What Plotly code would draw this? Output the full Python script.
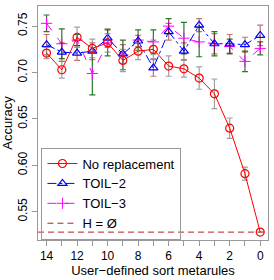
import plotly.graph_objects as go

metarules = [14, 13, 12, 11, 10, 9, 8, 7, 6, 5, 4, 3, 2, 1, 0]

no_rep = [0.721, 0.703, 0.738, 0.726, 0.732, 0.713, 0.723, 0.725, 0.707, 0.704, 0.694, 0.677, 0.640, 0.591, 0.528]
no_rep_err = [0.006, 0.009, 0.011, 0.010, 0.010, 0.012, 0.009, 0.010, 0.011, 0.009, 0.012, 0.016, 0.011, 0.007, 0.0]

toil2 = [0.730, 0.722, 0.721, 0.723, 0.737, 0.720, 0.734, 0.705, 0.744, 0.723, 0.751, 0.731, 0.731, 0.730, 0.740]
toil2_err = [0.011, 0.010, 0.008, 0.009, 0.010, 0.010, 0.006, 0.009, 0.009, 0.009, 0.007, 0.011, 0.010, 0.008, 0.011]

toil3 = [0.753, 0.731, 0.735, 0.699, 0.732, 0.719, 0.735, 0.733, 0.750, 0.737, 0.733, 0.731, 0.728, 0.712, 0.726]
toil3_err = [0.009, 0.016, 0.006, 0.023, 0.014, 0.016, 0.011, 0.013, 0.008, 0.017, 0.016, 0.013, 0.008, 0.011, 0.007]

h_empty = 0.528

x_tickvals = list(range(0, 15))
x_ticktext = [str(v) if v % 2 == 0 else "" for v in x_tickvals]
y_tickvals = [0.55, 0.60, 0.65, 0.70, 0.75]
y_ticktext = ["0.55", "0.60", "0.65", "0.70", "0.75"]

FONT = "Liberation Sans, Arial, sans-serif"

fig = go.Figure()

fig.add_shape(type="line", xref="paper", x0=0, x1=1, yref="y", y0=h_empty, y1=h_empty,
              line=dict(color="#B22222", width=1, dash="6px,4px"), layer="below")

fig.add_trace(go.Scatter(
    x=metarules, y=toil3, name="TOIL\u22123", mode="lines+markers",
    line=dict(color="#FF00FF", width=1, dash="dash"),
    marker=dict(symbol="cross-thin-open", size=8, color="#FF00FF", line=dict(width=1, color="#FF00FF")),
    error_y=dict(type="data", array=toil3_err, color="rgba(0,100,0,0.85)", thickness=1.2, width=3),
    showlegend=False))

fig.add_trace(go.Scatter(
    x=metarules, y=toil2, name="TOIL\u22122", mode="lines+markers",
    line=dict(color="#0000FF", width=1, dash="dashdot"),
    marker=dict(symbol="triangle-up-open", size=8, color="#0000FF", line=dict(width=1.2, color="#0000FF")),
    error_y=dict(type="data", array=toil2_err, color="rgba(139,0,0,0.55)", thickness=1.2, width=3),
    showlegend=False))

fig.add_trace(go.Scatter(
    x=metarules, y=no_rep, name="No replacement", mode="lines+markers",
    line=dict(color="#FF0000", width=1),
    marker=dict(symbol="circle-open", size=8, color="#FF0000", line=dict(width=1.2, color="#FF0000")),
    error_y=dict(type="data", array=no_rep_err, color="rgba(128,128,128,0.75)", thickness=1.2, width=3),
    showlegend=False))

# legend entries in the reference order
fig.add_trace(go.Scatter(x=[None], y=[None], name="No replacement", mode="lines+markers",
                         line=dict(color="#FF0000", width=1),
                         marker=dict(symbol="circle-open", size=8, color="#FF0000", line=dict(width=1.2))))
fig.add_trace(go.Scatter(x=[None], y=[None], name="TOIL\u22122", mode="lines+markers",
                         line=dict(color="#0000FF", width=1, dash="dashdot"),
                         marker=dict(symbol="triangle-up-open", size=8, color="#0000FF", line=dict(width=1.2))))
fig.add_trace(go.Scatter(x=[None], y=[None], name="TOIL\u22123", mode="lines+markers",
                         line=dict(color="#FF00FF", width=1, dash="dash"),
                         marker=dict(symbol="cross-thin-open", size=8, color="#FF00FF", line=dict(width=1, color="#FF00FF"))))
fig.add_trace(go.Scatter(x=[None], y=[None], name="H = \u00D8", mode="lines",
                         line=dict(color="#B22222", width=1, dash="6px,4px")))

fig.update_layout(
    width=274, height=280,
    margin=dict(l=34, r=5, t=5, b=35),
    paper_bgcolor="white", plot_bgcolor="white",
    font=dict(family=FONT, size=12, color="black"),
    showlegend=True,
    legend=dict(x=0.015, y=0.395, xanchor="left", yanchor="top",
                bordercolor="#999999", borderwidth=1, bgcolor="rgba(255,255,255,0)",
                font=dict(family=FONT, size=13), tracegroupgap=0, itemwidth=30),
    xaxis=dict(range=[14.56, -0.51], tickmode="array", tickvals=x_tickvals, ticktext=x_ticktext,
               ticks="outside", ticklen=5, tickcolor="#999999", showgrid=False, zeroline=False,
               showline=True, linecolor="#999999", mirror=True,
               title=dict(text="User\u2212defined sort metarules", font=dict(size=13), standoff=2),
               tickfont=dict(size=12)),
    yaxis=dict(range=[0.5195, 0.7717], tickmode="array", tickvals=y_tickvals, ticktext=y_ticktext,
               ticks="outside", ticklen=5, tickcolor="#999999", showgrid=False, zeroline=False,
               showline=True, linecolor="#999999", mirror=True, tickangle=-90,
               title=dict(text="Accuracy", font=dict(size=13), standoff=2),
               tickfont=dict(size=12)),
)

fig.write_html("out.html", config={"displayModeBar": False},
               post_script="document.body.style.margin='0';")
